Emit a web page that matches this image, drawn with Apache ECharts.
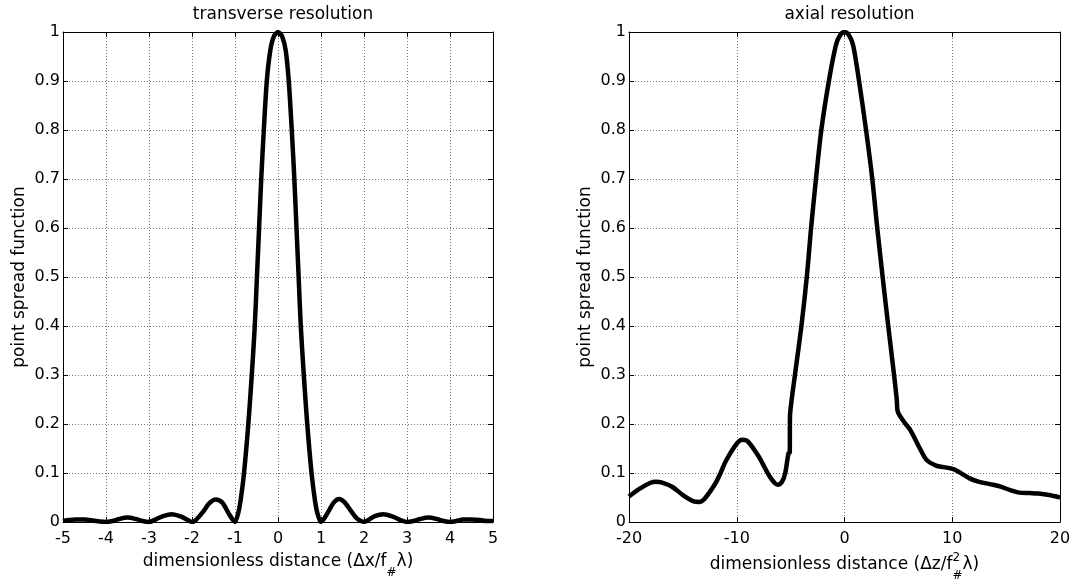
<!DOCTYPE html>
<html><head><meta charset="utf-8">
<script src="https://cdn.jsdelivr.net/npm/echarts@6/dist/echarts.min.js"></script>
<style>html,body{margin:0;padding:0;background:#fff}#c{width:1077px;height:586px}</style>
</head><body><div id="c"></div><script>
// ---- data ----
const transTitle = 'transverse resolution';
const axialTitle = 'axial resolution';
const yName = 'point spread function';
const transXRange = [-5, 5, 1];      // min, max, tick interval
const axialXRange = [-20, 20, 10];
const yRange = [0, 1, 0.1];

const transX = [-5, -4.85, -4.7, -4.5, -4.3, -4.15, -4, -3.85, -3.7, -3.5, -3.3, -3.15, -3, -2.85, -2.7, -2.47, -2.25, -2.1, -2, -1.9, -1.75, -1.6, -1.45, -1.3, -1.15, -1.05, -1, -0.92, -0.86, -0.79, -0.69, -0.61, -0.54, -0.49, -0.44, -0.39, -0.33, -0.26, -0.18, -0.1, 0,
  0.1, 0.18, 0.25, 0.32, 0.38, 0.43, 0.48, 0.53, 0.6, 0.68, 0.78, 0.85, 0.91, 1, 1.05, 1.15, 1.3, 1.42, 1.55, 1.7, 1.85, 2, 2.1, 2.25, 2.45, 2.7, 2.85, 3, 3.15, 3.3, 3.5, 3.7, 3.85, 4, 4.15, 4.3, 4.5, 4.7, 4.85, 5];
const transY = [0.002, 0.004, 0.005, 0.005, 0.003, 0.001, 0, 0.002, 0.006, 0.009, 0.006, 0.002, 0, 0.005, 0.011, 0.016, 0.011, 0.004, 0, 0.005, 0.02, 0.038, 0.046, 0.04, 0.018, 0.004, 0, 0.02, 0.05, 0.1, 0.2, 0.3, 0.4, 0.5, 0.6, 0.7, 0.8, 0.9, 0.962, 0.99, 1.0,
  0.99, 0.962, 0.9, 0.8, 0.7, 0.6, 0.5, 0.4, 0.3, 0.2, 0.1, 0.05, 0.02, 0, 0.004, 0.018, 0.04, 0.047, 0.04, 0.022, 0.006, 0, 0.004, 0.012, 0.016, 0.01, 0.004, 0, 0.002, 0.006, 0.009, 0.006, 0.002, 0, 0.002, 0.005, 0.005, 0.004, 0.002, 0.002];

const axialX = [-20, -19, -18, -17.5, -17, -16, -15, -14, -13.5, -13, -12, -11.5, -11, -10, -9.5, -9, -8, -7.5, -7, -6.5, -6.2, -5.8, -5.5, -5.2, -5.08, -5.06, -4.9, -4.6, -4, -3.5, -3.1, -2.65, -2.15, -1.45, -0.8, -0.4, 0,
  0.4, 0.8, 1.35, 2, 2.58, 3.04, 3.54, 4.06, 4.6, 4.85, 4.95, 5.5, 6.1, 7, 7.6, 8.5, 9.2, 10.1, 11, 11.6, 12.5, 13.8, 14.5, 15.4, 16.2, 17.2, 18, 19, 20];
const axialY = [0.052, 0.068, 0.080, 0.082, 0.081, 0.072, 0.055, 0.042, 0.041, 0.047, 0.078, 0.10, 0.125, 0.160, 0.168, 0.165, 0.135, 0.115, 0.095, 0.080, 0.076, 0.082, 0.10, 0.14, 0.142, 0.215, 0.25, 0.30, 0.40, 0.50, 0.60, 0.70, 0.80, 0.90, 0.973, 0.994, 1.0,
  0.994, 0.973, 0.90, 0.80, 0.70, 0.60, 0.50, 0.40, 0.30, 0.25, 0.225, 0.205, 0.188, 0.15, 0.127, 0.115, 0.112, 0.108, 0.097, 0.089, 0.082, 0.076, 0.072, 0.065, 0.060, 0.059, 0.058, 0.055, 0.050];

// ---- layout ----
const FONT = '"DejaVu Sans", sans-serif';
const TICK_FS = 16, NAME_FS = 17, SUB_FS = 12;
const grids = [
  { left: 63, top: 32, width: 430, height: 490 },
  { left: 629, top: 32, width: 431, height: 490 }
];

function pairs(xs, ys) { return xs.map((x, i) => [x, ys[i]]); }

function xAxisCfg(gi, r, pos) {
  const main = pos === 'bottom';
  return {
    type: 'value', gridIndex: gi, position: pos, min: r[0], max: r[1], interval: r[2],
    axisLine: { show: true, onZero: false, lineStyle: { color: '#000', width: 1 } },
    axisTick: { show: true, inside: true, length: 5, lineStyle: { color: '#000' } },
    axisLabel: { show: main, color: '#000', fontSize: TICK_FS, fontFamily: FONT, margin: 9 },
    splitLine: { show: main, lineStyle: { color: '#777', width: 1, type: [1, 2] } }
  };
}
function yAxisCfg(gi, r, pos) {
  const main = pos === 'left';
  return {
    type: 'value', gridIndex: gi, position: pos, min: r[0], max: r[1], interval: r[2],
    name: main ? yName : '', nameLocation: 'middle', nameGap: 35, nameRotate: 90,
    nameTextStyle: { color: '#000', fontSize: NAME_FS, fontFamily: FONT },
    axisLine: { show: true, onZero: false, lineStyle: { color: '#000', width: 1 } },
    axisTick: { show: true, inside: true, length: 5, lineStyle: { color: '#000' } },
    axisLabel: { show: main, color: '#000', fontSize: TICK_FS, fontFamily: FONT, margin: 3 },
    splitLine: { show: main, lineStyle: { color: '#777', width: 1, type: [1, 2] } }
  };
}

// measure text for composed axis names (sub/superscripts)
const cv = document.createElement('canvas').getContext('2d');
function tw(t, size) { cv.font = size + 'px ' + FONT; return cv.measureText(t).width; }
function txt(t, x, y, size) {
  return { type: 'text', x: x, y: y, silent: true,
    style: { text: t, fill: '#000', font: size + 'px ' + FONT, align: 'left', verticalAlign: 'middle', textAlign: 'left', textVerticalAlign: 'middle' } };
}
function nameGraphic(cx, cy, pre, post, sup, sub) {
  const w1 = tw(pre, NAME_FS), ws = Math.max(sup ? tw(sup, SUB_FS) : 0, tw(sub, SUB_FS)), w3 = tw(post, NAME_FS);
  const x0 = cx - (w1 + ws + w3) / 2;
  const els = [txt(pre, x0, cy, NAME_FS), txt(sub, x0 + w1, cy + 11, SUB_FS), txt(post, x0 + w1 + ws, cy, NAME_FS)];
  if (sup) els.push(txt(sup, x0 + w1, cy - 7, SUB_FS));
  return els;
}

const cx1 = grids[0].left + grids[0].width / 2;
const cx2 = grids[1].left + grids[1].width / 2;

const option = {
  animation: false,
  backgroundColor: '#fff',
  title: [
    { text: transTitle, left: cx1, textAlign: 'center', top: 1, textStyle: { color: '#000', fontSize: NAME_FS, fontWeight: 'normal', fontFamily: FONT } },
    { text: axialTitle, left: cx2, textAlign: 'center', top: 1, textStyle: { color: '#000', fontSize: NAME_FS, fontWeight: 'normal', fontFamily: FONT } }
  ],
  grid: grids,
  xAxis: [
    xAxisCfg(0, transXRange, 'bottom'), xAxisCfg(0, transXRange, 'top'),
    xAxisCfg(1, axialXRange, 'bottom'), xAxisCfg(1, axialXRange, 'top')
  ],
  yAxis: [
    yAxisCfg(0, yRange, 'left'), yAxisCfg(0, yRange, 'right'),
    yAxisCfg(1, yRange, 'left'), yAxisCfg(1, yRange, 'right')
  ],
  graphic: [].concat(
    nameGraphic(cx1, 562, 'dimensionless distance (\u0394x/f', '\u03bb)', null, '#'),
    nameGraphic(cx2, 565, 'dimensionless distance (\u0394z/f', '\u03bb)', '2', '#')
  ),
  series: [
    { type: 'line', xAxisIndex: 0, yAxisIndex: 0, data: pairs(transX, transY), showSymbol: false,
      smooth: 0.3, lineStyle: { color: '#000', width: 4.5 }, z: 5 },
    { type: 'line', xAxisIndex: 2, yAxisIndex: 2, data: pairs(axialX, axialY), showSymbol: false,
      smooth: 0.3, lineStyle: { color: '#000', width: 4.5 }, z: 5 }
  ]
};
const chart = echarts.init(document.getElementById('c'), null, { renderer: 'canvas' });
chart.setOption(option);
</script></body></html>
